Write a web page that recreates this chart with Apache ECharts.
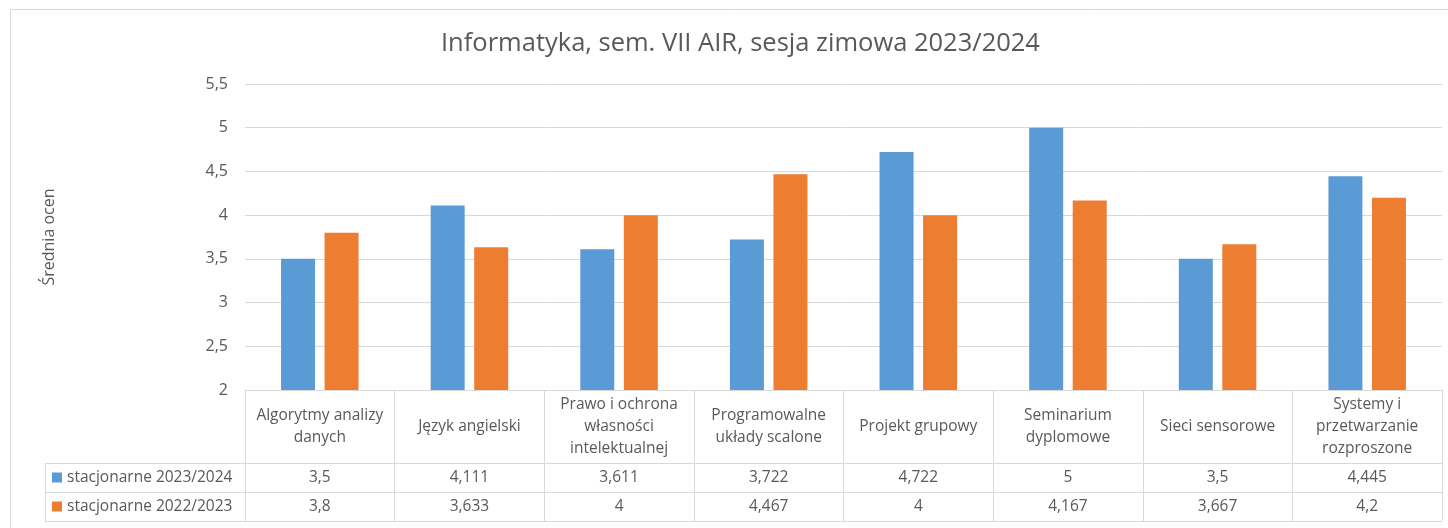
<!DOCTYPE html>
<html>
<head>
<meta charset="utf-8">
<script src="https://cdn.jsdelivr.net/npm/echarts@6/dist/echarts.min.js"></script>
<style>
  html, body { margin: 0; padding: 0; background: #fff; }
  #chart { width: 1448px; height: 528px; }
</style>
</head>
<body>
<div id="chart"></div>
<script>
// dane z wykresu
const categories = [
  'Algorytmy analizy\ndanych',
  'Język angielski',
  'Prawo i ochrona\nwłasności\nintelektualnej',
  'Programowalne\nukłady scalone',
  'Projekt grupowy',
  'Seminarium\ndyplomowe',
  'Sieci sensorowe',
  'Systemy i\nprzetwarzanie\nrozproszone',
]
const seriesNames = ['stacjonarne 2023/2024', 'stacjonarne 2022/2023']
const values2324 = [3.5, 4.111, 3.611, 3.722, 4.722, 5, 3.5, 4.445]
const values2223 = [3.8, 3.633, 4, 4.467, 4, 4.167, 3.667, 4.2]
const yMin = 2
const yMax = 5.5
const yStep = 0.5

const colors = ['#5B9BD5', '#ED7D31']
const textColor = '#595959'
const lineColor = '#D9D9D9'
const font = 'Open Sans'
const fs = 15.5

// przecinek jako separator dziesiętny
const fmt = v => String(v).replace('.', ',')

// wiersz tabeli danych pod osią
function valueRow(values, offset) {
  return {
    type: 'category',
    data: values.map(fmt),
    position: 'bottom',
    offset,
    axisLine: { show: true, lineStyle: { color: lineColor } },
    axisTick: { show: false },
    axisLabel: {
      interval: 0,
      margin: 14.5,
      verticalAlign: 'middle',
      fontSize: fs,
      fontFamily: font,
      color: textColor,
    },
  }
}

const chart = echarts.init(document.getElementById('chart'))

chart.setOption({
  animation: false,
  color: colors,
  title: {
    text: 'Informatyka, sem. VII AIR, sesja zimowa 2023/2024',
    left: 441,
    top: 29,
    padding: 0,
    textStyle: {
      color: textColor,
      fontFamily: font,
      fontSize: 25.5,
      fontWeight: 'normal',
      lineHeight: 30,
    },
  },
  legend: {
    orient: 'vertical',
    left: 52,
    top: 469,
    padding: 0,
    itemGap: 12,
    icon: 'rect',
    itemWidth: 10,
    itemHeight: 10,
    selectedMode: false,
    textStyle: { color: textColor, fontFamily: font, fontSize: fs, lineHeight: 17 },
    data: seriesNames,
  },
  grid: { left: 245, right: 6, top: 84, bottom: 138 },
  xAxis: [
    {
      type: 'category',
      data: categories,
      axisLine: { show: true, lineStyle: { color: lineColor } },
      axisTick: { show: true, alignWithLabel: false, length: 131, lineStyle: { color: lineColor } },
      axisLabel: {
        interval: 0,
        margin: 36.5,
        verticalAlign: 'middle',
        align: 'center',
        fontSize: fs,
        lineHeight: 22,
        fontFamily: font,
        color: textColor,
      },
    },
    valueRow(values2324, 73),
    valueRow(values2223, 102),
    {
      type: 'category',
      data: categories,
      position: 'bottom',
      offset: 131,
      axisLine: { show: true, lineStyle: { color: lineColor } },
      axisTick: { show: false },
      axisLabel: { show: false },
    },
  ],
  yAxis: {
    type: 'value',
    min: yMin,
    max: yMax,
    interval: yStep,
    name: 'Średnia ocen',
    nameLocation: 'middle',
    nameRotate: 90,
    nameGap: 188,
    nameTextStyle: { color: textColor, fontFamily: font, fontSize: 16 },
    axisLine: { show: false },
    axisTick: { show: false },
    axisLabel: {
      margin: 17,
      fontSize: 16,
      fontFamily: font,
      color: textColor,
      formatter: fmt,
    },
    splitLine: { lineStyle: { color: lineColor } },
  },
  series: [
    { name: seriesNames[0], type: 'bar', data: values2324, barWidth: 34, barGap: '28%' },
    { name: seriesNames[1], type: 'bar', data: values2223, barWidth: 34, barGap: '28%' },
  ],
  graphic: [
    // ramka wykresu
    { type: 'rect', shape: { x: 10.5, y: 9.5, width: 1450, height: 530 }, style: { fill: null, stroke: lineColor } },
    // kolumna legendy w tabeli
    { type: 'line', shape: { x1: 45, y1: 463.5, x2: 245, y2: 463.5 }, style: { stroke: lineColor } },
    { type: 'line', shape: { x1: 45, y1: 492.5, x2: 245, y2: 492.5 }, style: { stroke: lineColor } },
    { type: 'line', shape: { x1: 45, y1: 521.5, x2: 245, y2: 521.5 }, style: { stroke: lineColor } },
    { type: 'line', shape: { x1: 45.5, y1: 463, x2: 45.5, y2: 522 }, style: { stroke: lineColor } },
  ],
})
</script>
</body>
</html>
